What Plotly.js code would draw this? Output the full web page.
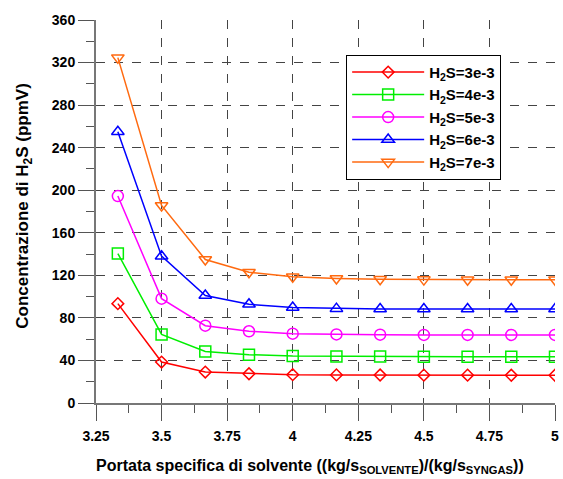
<!DOCTYPE html>
<html><head><meta charset="utf-8">
<script src="https://cdn.plot.ly/plotly-3.0.1.min.js"></script>
<style>html,body{margin:0;padding:0;background:#fff}#chart{width:563px;height:479px}</style>
</head><body><div id="chart"></div>
<script>
const xVals = [3.3333, 3.5, 3.6667, 3.8333, 4.0, 4.1667, 4.3333, 4.5, 4.6667, 4.8333, 5.0];
const h2s3e3 = [93.4, 38.5, 29.1, 27.5, 26.6, 26.4, 26.3, 26.2, 26.2, 26.1, 26.1];
const h2s4e3 = [140.5, 64.5, 48.5, 45.4, 44.1, 43.8, 43.6, 43.5, 43.5, 43.5, 43.5];
const h2s5e3 = [194.5, 98.1, 72.7, 67.4, 65.2, 64.5, 64.2, 64.0, 64.0, 64.0, 64.0];
const h2s6e3 = [255.0, 138.0, 101.0, 92.8, 89.7, 88.7, 88.4, 88.4, 88.3, 88.3, 88.3];
const h2s7e3 = [324.6, 185.7, 134.9, 122.9, 118.6, 117.0, 116.3, 116.0, 115.9, 115.8, 115.8];
const seriesNames = ['H<sub>2</sub>S=3e-3', 'H<sub>2</sub>S=4e-3', 'H<sub>2</sub>S=5e-3', 'H<sub>2</sub>S=6e-3', 'H<sub>2</sub>S=7e-3'];
const xTickVals = [3.25, 3.5, 3.75, 4, 4.25, 4.5, 4.75, 5];
const xTickText = ['3.25', '3.5', '3.75', '4', '4.25', '4.5', '4.75', '5'];
const xTitle = 'Portata specifica di solvente ((kg/s<sub>SOLVENTE</sub>)/(kg/s<sub>SYNGAS</sub>))';
const yTitle = 'Concentrazione di H<sub>2</sub>S (ppmV)';

const ys = [h2s3e3, h2s4e3, h2s5e3, h2s6e3, h2s7e3];
const colors = ['#ff0000', '#00ee00', '#ff00ff', '#0000ff', '#ff6a10'];
const symbols = ['diamond-open', 'square-open', 'circle-open', 'triangle-up-open', 'triangle-down-open'];
const sizes = [9, 11, 11, 11, 11];

const traces = ys.map((y, i) => ({
  x: xVals, y: y, name: seriesNames[i], type: 'scatter', mode: 'lines+markers',
  line: {color: colors[i], width: 1.5},
  marker: {symbol: symbols[i], size: sizes[i], color: colors[i], line: {width: 1.5, color: colors[i]}}
}));

const fam = 'Liberation Sans, Arial, sans-serif';
const layout = {
  width: 563, height: 479,
  margin: {l: 96, r: 8, t: 20, b: 76},
  paper_bgcolor: '#fff', plot_bgcolor: '#fff',
  showlegend: true,
  font: {family: fam, color: '#000'},
  legend: {
    x: 0.545, y: 0.909, xanchor: 'left', yanchor: 'top',
    bgcolor: '#fff', bordercolor: '#000', borderwidth: 1,
    font: {family: fam, size: 15, weight: 'bold', color: '#000'},
    tracegroupgap: 0, itemwidth: 72
  },
  xaxis: {
    range: [3.25, 5], tickvals: xTickVals, ticktext: xTickText,
    showgrid: true, gridcolor: '#444', griddash: 'dash', gridwidth: 1,
    zeroline: false, showline: true, linecolor: '#777', linewidth: 2,
    ticks: 'outside', ticklen: 16, tickcolor: '#555', tickwidth: 1,
    ticklabelstandoff: 3,
    minor: {ticks: 'outside', ticklen: 8, tickcolor: '#555', dtick: 0.125, tick0: 3.25, showgrid: false},
    tickfont: {family: fam, size: 14, weight: 'bold', color: '#000'}
  },
  yaxis: {
    range: [0, 360], dtick: 40, tick0: 0,
    showgrid: true, gridcolor: '#444', griddash: 'dash', gridwidth: 1,
    zeroline: false, showline: true, linecolor: '#777', linewidth: 2,
    ticks: 'outside', ticklen: 16, tickcolor: '#555', tickwidth: 1,
    minor: {ticks: 'outside', ticklen: 8, tickcolor: '#555', dtick: 20, showgrid: false},
    tickfont: {family: fam, size: 14, weight: 'bold', color: '#000'}
  },
  annotations: [
    {text: xTitle, xref: 'paper', yref: 'paper', x: 0.466, y: -0.165, xanchor: 'center', yanchor: 'middle',
     showarrow: false, font: {family: fam, size: 16, weight: 'bold', color: '#000'}},
    {text: yTitle, xref: 'paper', yref: 'paper', x: -0.156, y: 0.516, xanchor: 'center', yanchor: 'middle',
     textangle: -90, showarrow: false, font: {family: fam, size: 17, weight: 'bold', color: '#000'}}
  ]
};
Plotly.newPlot('chart', traces, layout, {displayModeBar: false, staticPlot: true});
</script></body></html>
